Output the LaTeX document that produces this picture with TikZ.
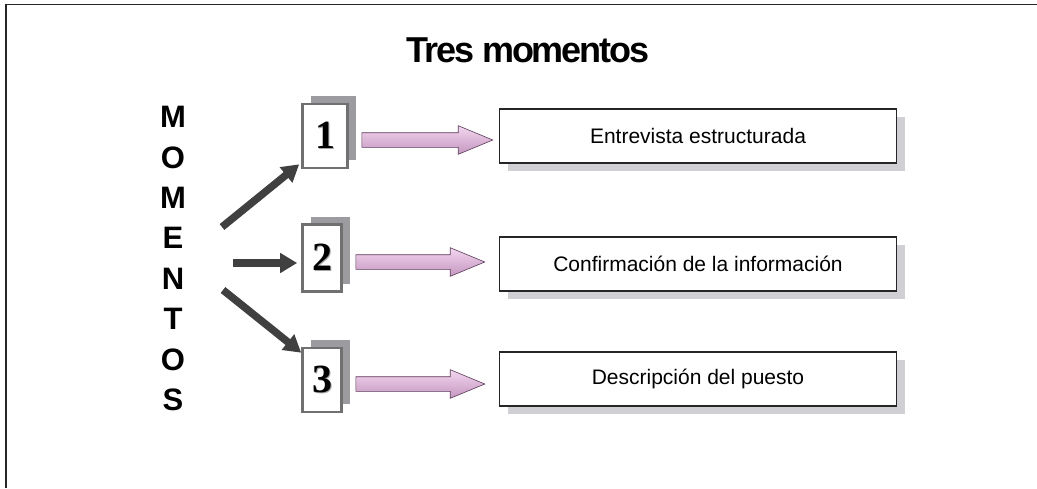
\documentclass[tikz,border=0pt]{standalone}
\usepackage{fontspec}
\setmainfont{Liberation Sans}
\newfontfamily\numfont{Liberation Serif}
\newfontfamily\titlefont{Liberation Sans}[LetterSpace=-6]
\usetikzlibrary{shapes.arrows,shadows,arrows.meta}
\definecolor{darkarrow}{HTML}{404040}
\definecolor{numborder}{HTML}{707070}
\definecolor{numshade}{HTML}{9C9CA0}
\definecolor{boxshade}{HTML}{D0D0D4}
\definecolor{pinktop}{HTML}{F2D6EE}
\definecolor{pinkbot}{HTML}{C496C0}
\definecolor{pinkline}{HTML}{5A3A58}
\tikzset{
  numbox/.style={draw=numborder, line width=2.6pt, fill=white, minimum height=64pt,
    inner sep=0pt, font=\numfont\bfseries\fontsize{40}{42}\selectfont,
    drop shadow={shadow xshift=8pt, shadow yshift=8pt, fill=numshade, opacity=1}},
  txtbox/.style={draw=black!85, line width=1.2pt, fill=white, minimum width=397pt,
    minimum height=54pt, inner sep=0pt, font=\fontsize{21}{24}\selectfont,
    drop shadow={shadow xshift=8pt, shadow yshift=-8pt, fill=boxshade, opacity=1}},
  pinkarrow/.style={single arrow, draw=pinkline, line width=0.6pt, top color=pinktop,
    bottom color=pinkbot, inner sep=7pt, single arrow head extend=7pt,
    single arrow tip angle=45, minimum height=131pt, anchor=tail, outer sep=0pt},
  darkline/.style={darkarrow, line width=7.5pt, -{Triangle[length=17pt, width=19pt]}},
  vletter/.style={font=\bfseries\fontsize{31}{33}\selectfont, inner sep=0pt}
}
\begin{document}
\begin{tikzpicture}[x=1pt, y=-1pt]
  \useasboundingbox (0,0) rectangle (1037,488);
  % frame
  \draw [black!85, line width=1.8pt] (6,488) -- (6,4.5) -- (1037,4.5);

  \node [font=\titlefont\bfseries\fontsize{36}{40}\selectfont, anchor=base] (title) at (528,62.5) {Tres momentos};

  % vertical word
  \foreach \ch [count=\i from 0] in {M,O,M,E,N,T,O,S}
    \node [vletter] (v\i) at (173,117+40.4*\i) {\ch};

  % number boxes
  \node [numbox, minimum width=45pt] (n1) at (325,136) {%
    \rlap{\color{gray!70}\hspace{1.5pt}\raisebox{-1.5pt}{1}}1};
  \node [numbox, minimum width=39pt, minimum height=67pt] (n2) at (322,258) {%
    \rlap{\color{gray!70}\hspace{1.5pt}\raisebox{-1.5pt}{2}}2};
  \node [numbox, minimum width=39pt] (n3) at (322,380) {%
    \rlap{\color{gray!70}\hspace{1.5pt}\raisebox{-1.5pt}{3}}3};

  % text boxes
  \node [txtbox] (t1) at (698,136) {Entrevista estructurada};
  \node [txtbox] (t2) at (698,264) {Confirmación de la información};
  \node [txtbox] (t3) at (698,379) {Descripción del puesto};

  % dark arrows
  \coordinate (s1) at (222,227);
  \coordinate (s2) at (233,263);
  \coordinate (s3) at (223,290);
  \draw [darkline] (s1) -- ([xshift=-2pt, yshift=5pt]n1.south west);
  \draw [darkline] (s2) -- ([xshift=-4pt, yshift=-5pt]n2.west);
  \draw [darkline] (s3) -- ([yshift=-6pt]n3.north west);

  % pink arrows
  \node [pinkarrow] (p1) at ([xshift=13pt, yshift=-4pt]n1.east) {};
  \node [pinkarrow, minimum height=129pt] (p2) at ([xshift=13pt, yshift=-4pt]n2.east) {};
  \node [pinkarrow, minimum height=129pt] (p3) at ([xshift=13pt, yshift=-4pt]n3.east) {};
\end{tikzpicture}
\end{document}
